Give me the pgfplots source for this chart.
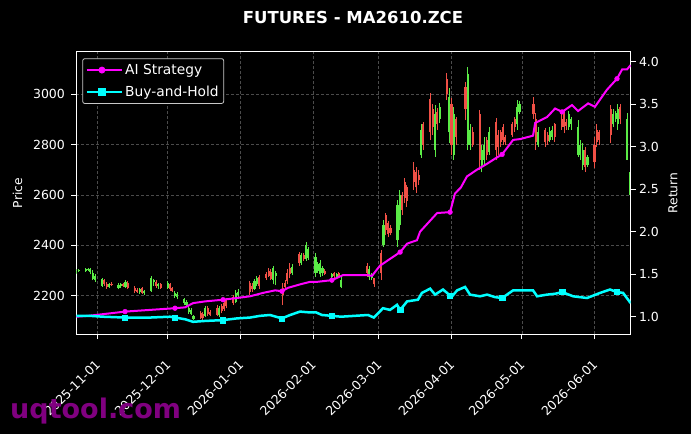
\documentclass[border=0pt]{standalone}
\usepackage{pgfplots}
\pgfplotsset{compat=1.18}
\usepackage{pgfplotstable}
\usepackage{fontspec}
\setmainfont{DejaVu Sans}
\definecolor{cgreen}{RGB}{90,235,70}
\definecolor{cred}{RGB}{240,80,70}
\definecolor{gridc}{RGB}{75,75,75}
\definecolor{wm}{RGB}{128,0,128}
\definecolor{legframe}{RGB}{200,200,200}
\definecolor{aimag}{RGB}{255,0,255}
\definecolor{bhcyan}{RGB}{0,255,255}

% day = days since 2025-11-01
\pgfplotstableread{
d o h l c
-9 2292 2306 2288 2300
-8 2300 2308 2294 2302
-5 2298 2310 2295 2306
-4 2304 2312 2298 2308
-3 2296 2312 2285 2305
-2 2268 2302 2262 2292
-1 2262 2285 2255 2278
2 2240 2272 2235 2265
5 2236 2252 2232 2246
9 2230 2250 2225 2244
10 2240 2252 2232 2248
12 2236 2262 2230 2255
18 2214 2230 2208 2225
20 2212 2222 2205 2218
23 2218 2278 2215 2270
24 2255 2268 2240 2262
26 2238 2250 2228 2245
30 2232 2258 2225 2250
33 2200 2218 2192 2212
34 2195 2215 2186 2208
37 2172 2192 2165 2186
38 2165 2182 2160 2176
39 2135 2158 2128 2150
40 2128 2150 2122 2142
41 2108 2125 2102 2120
46 2120 2160 2115 2150
52 2122 2158 2115 2150
59 2175 2222 2170 2212
60 2205 2225 2195 2215
67 2228 2265 2222 2258
68 2245 2278 2240 2270
75 2262 2318 2245 2310
76 2280 2300 2242 2292
83 2290 2325 2282 2315
87 2330 2370 2322 2360
89 2345 2414 2340 2400
90 2350 2395 2342 2385
93 2290 2370 2274 2355
94 2300 2335 2290 2325
95 2285 2342 2274 2330
96 2290 2320 2280 2310
100 2275 2292 2270 2286
102 2276 2292 2268 2285
104 2235 2284 2230 2262
116 2275 2318 2262 2305
117 2270 2290 2262 2282
122 2400 2500 2394 2480
128 2420 2580 2394 2560
129 2480 2620 2460 2600
138 2760 2880 2747 2860
144 2780 2957 2751 2920
146 2900 2965 2885 2950
150 2850 3025 2806 2990
152 2760 2950 2739 2920
158 2800 3110 2779 3080
159 2800 2880 2780 2860
164 2720 2800 2690 2780
165 2740 2830 2720 2800
167 2770 2870 2760 2850
179 2880 2977 2860 2950
180 2930 2975 2920 2960
188 2800 2870 2790 2850
193 2820 2870 2810 2855
194 2830 2875 2820 2860
201 2870 2935 2860 2920
202 2880 2910 2860 2900
205 2760 2898 2751 2870
206 2760 2820 2740 2800
207 2720 2806 2700 2780
209 2720 2760 2710 2750
220 2880 2940 2870 2920
221 2900 2935 2890 2925
222 2880 2960 2860 2940
226 2740 2925 2739 2900
227 2600 2690 2600 2680
}\upcandles

\pgfplotstableread{
d o h l c
3 2262 2266 2238 2245
4 2248 2255 2228 2235
6 2246 2254 2238 2242
11 2248 2252 2234 2238
13 2252 2258 2226 2232
16 2232 2238 2212 2218
17 2224 2232 2210 2214
19 2230 2236 2208 2212
25 2255 2262 2232 2240
27 2245 2250 2228 2232
31 2248 2252 2218 2225
32 2232 2236 2214 2218
44 2132 2138 2108 2112
45 2126 2134 2104 2110
47 2150 2158 2120 2128
48 2135 2142 2118 2122
51 2150 2162 2118 2125
53 2160 2166 2130 2138
54 2172 2190 2140 2148
55 2185 2192 2150 2158
58 2195 2205 2165 2172
65 2250 2258 2205 2215
66 2240 2250 2215 2225
69 2275 2282 2228 2238
72 2285 2295 2262 2270
73 2300 2312 2275 2280
74 2295 2305 2262 2268
79 2230 2250 2163 2205
80 2250 2262 2225 2235
81 2290 2305 2245 2258
82 2310 2330 2270 2285
86 2365 2374 2318 2330
88 2362 2368 2340 2345
97 2300 2305 2282 2288
101 2290 2296 2272 2278
103 2292 2296 2270 2276
115 2320 2330 2275 2290
118 2270 2272 2235 2245
121 2370 2382 2262 2290
123 2520 2528 2440 2460
124 2490 2495 2433 2445
125 2470 2480 2440 2450
130 2600 2610 2520 2540
131 2650 2667 2570 2590
132 2630 2640 2552 2575
135 2700 2731 2620 2650
136 2690 2710 2608 2630
137 2680 2700 2640 2660
139 2880 2890 2780 2800
142 2980 3005 2818 2850
143 2940 2960 2840 2870
145 2930 2945 2860 2880
149 3060 3085 2977 3000
151 2960 2985 2760 2800
153 2900 2910 2800 2830
157 3030 3048 2898 2940
160 2850 2870 2790 2800
163 2920 2938 2700 2740
166 2820 2830 2740 2760
170 2890 2906 2739 2780
171 2840 2860 2760 2790
172 2850 2860 2790 2810
173 2870 2880 2800 2820
174 2830 2838 2800 2810
177 2880 2890 2830 2840
178 2900 2910 2850 2870
186 2960 2990 2900 2920
187 2900 2925 2780 2810
191 2860 2866 2790 2810
192 2840 2850 2800 2815
195 2880 2885 2810 2830
198 2900 2920 2860 2870
199 2920 2937 2846 2870
200 2890 2900 2860 2875
208 2780 2790 2691 2710
212 2800 2830 2707 2730
213 2860 2880 2790 2810
214 2850 2860 2800 2820
219 2940 2957 2806 2840
223 2950 2960 2880 2900
}\downcandles

\pgfplotstableread{
d r
-9 1.00
-4 1.01
2.4 1.03
11.8 1.06
22.4 1.08
33.1 1.10
37.4 1.11
40.8 1.16
45.9 1.18
53.6 1.20
59.5 1.22
65.1 1.24
70.6 1.28
75.8 1.31
78.7 1.30
81.3 1.34
86.4 1.38
90.7 1.41
93.6 1.41
100 1.43
104.8 1.49
115.4 1.49
117.1 1.48
120.5 1.60
124.8 1.68
129.1 1.76
132.1 1.86
136.3 1.90
137.6 2.00
144.9 2.22
150.4 2.23
152.5 2.45
155 2.52
157.6 2.65
161.9 2.73
166.2 2.80
169.6 2.86
172.6 2.91
177.3 3.08
180.3 3.09
185.8 3.13
186.7 3.28
191.8 3.35
195.2 3.45
198.2 3.41
202.4 3.49
205 3.42
209.3 3.51
212.2 3.47
217.3 3.67
221.6 3.80
223.8 3.91
225.9 3.91
227.4 3.96
}\aistrat

\pgfplotstableread{
d r
11.8 1.06
33.1 1.10
53.6 1.20
78.7 1.30
100 1.43
129.1 1.76
150.4 2.23
172.6 2.91
198.2 3.41
221.6 3.80
}\aimarks

\pgfplotstableread{
d r
-9 1.01
-3.2 1.01
2.4 1.00
11.8 0.99
22.4 0.99
31 1.00
33.1 0.99
37.4 0.97
40.8 0.94
45.9 0.95
53.6 0.96
59.5 0.98
65.1 0.99
69.3 1.01
73.6 1.02
78.7 0.98
82.2 1.02
86.4 1.06
90.7 1.05
93.3 1.05
95.8 1.02
100 1.01
103.9 1.00
115.4 1.02
117.9 0.99
121.8 1.10
124.8 1.08
127.8 1.14
129.1 1.08
132.1 1.18
136.7 1.20
138.4 1.28
141.9 1.33
144 1.26
147.4 1.32
150.4 1.25
151.3 1.24
153.4 1.31
156.8 1.35
158.9 1.26
163.2 1.24
166.2 1.26
169.6 1.23
172.6 1.22
177.3 1.31
180.3 1.31
185.8 1.31
187.5 1.24
191.8 1.26
195.2 1.27
198.2 1.29
202.9 1.24
208.8 1.22
214.4 1.28
218.6 1.32
221.6 1.29
224.2 1.28
227.4 1.16
}\bhold

\pgfplotstableread{
d r
11.8 0.99
33.1 0.99
53.6 0.96
78.7 0.98
100 1.01
129.1 1.08
150.4 1.25
172.6 1.22
198.2 1.29
221.6 1.29
}\bhmarks

\begin{document}
\begin{tikzpicture}[x=1pt,y=1pt]
\fill[black] (0,0) rectangle (691,434);
\begin{axis}[
  at={(76.3pt,99.7pt)}, anchor=south west,
  width=554.3pt, height=282.6pt, scale only axis,
  xmin=-9, xmax=227.4, ymin=2047, ymax=3169,
  axis line style={white, line width=0.8pt},
  tick pos=left, tick align=outside, major tick length=4.9pt,
  tick style={white, line width=0.8pt},
  /pgf/number format/assume math mode=true,
  /pgf/number format/1000 sep={},
  xtick={0,30,61,92,120,151,181,212},
  xticklabels={2025-11-01,2025-12-01,2026-01-01,2026-02-01,2026-03-01,2026-04-01,2026-05-01,2026-06-01},
  xticklabel style={rotate=45, anchor=north east, text=white, font=\fontsize{12.5}{15}\selectfont, xshift=-12.5pt, yshift=-8.5pt},
  ytick={2200,2400,2600,2800,3000},
  yticklabel style={text=white, font=\fontsize{12.5}{15}\selectfont, xshift=-3pt},
  grid=major,
  major grid style={gridc, line width=0.6pt, dash pattern=on 3pt off 2pt},
  ylabel={Price},
  every axis y label/.style={at={(axis description cs:-0.1061,0.5)}, rotate=90, anchor=center, text=white, font=\fontsize{12.3}{15}\selectfont},
]
\addplot[draw=cgreen, line width=0.9pt, mark=none, forget plot, quiver={u=0, v=\thisrow{h}-\thisrow{l}}]
  table[x=d, y=l] {\upcandles};
\addplot[draw=cgreen, line width=2.1pt, mark=none, forget plot, quiver={u=0, v=\thisrow{c}-\thisrow{o}}]
  table[x=d, y=o] {\upcandles};
\addplot[draw=cred, line width=0.9pt, mark=none, forget plot, quiver={u=0, v=\thisrow{h}-\thisrow{l}}]
  table[x=d, y=l] {\downcandles};
\addplot[draw=cred, line width=2.1pt, mark=none, forget plot, quiver={u=0, v=\thisrow{o}-\thisrow{c}}]
  table[x=d, y=c] {\downcandles};
\end{axis}

\begin{axis}[
  at={(76.3pt,99.7pt)}, anchor=south west,
  width=554.3pt, height=282.6pt, scale only axis,
  xmin=-9, xmax=227.4, ymin=0.793, ymax=4.118,
  axis x line=none, axis y line*=right,
  axis line style={white, line width=0.8pt},
  tick align=outside, major tick length=4.9pt,
  tick style={white, line width=0.8pt},
  /pgf/number format/assume math mode=true,
  ytick={1,1.5,2,2.5,3,3.5,4},
  yticklabel style={text=white, font=\fontsize{12.5}{15}\selectfont, /pgf/number format/.cd, fixed, fixed zerofill, precision=1},
  ylabel={Return},
  every axis y label/.style={at={(axis description cs:1.0765,0.5)}, rotate=90, anchor=center, text=white, font=\fontsize{12.3}{15}\selectfont},
  legend style={at={(axis description cs:0,1)}, anchor=north west, xshift=6pt, yshift=-6.6pt,
    fill=black, draw=legframe, line width=0.8pt, text=white, rounded corners=2pt,
    font=\fontsize{13.8}{16}\selectfont, inner xsep=3pt, inner ysep=3.5pt, row sep=6pt},
  legend cell align=left,
  legend image code/.code={\path (0pt,0pt) -- (35pt,0pt); \draw[mark repeat=2,mark phase=2,#1] plot coordinates {(0pt,0pt) (15pt,0pt) (30pt,0pt)};},
]
\addlegendimage{aimag, line width=2pt, mark=*, mark size=2.4pt, mark options={solid}}
\addlegendentry{AI Strategy}
\addlegendimage{bhcyan, line width=2.5pt, mark=square*, mark size=2.6pt, mark options={solid}}
\addlegendentry{Buy-and-Hold}
\addplot[aimag, line width=2pt, forget plot] table[x=d, y=r] {\aistrat};
\addplot[aimag, only marks, mark=*, mark size=2.4pt, forget plot] table[x=d, y=r] {\aimarks};
\addplot[bhcyan, line width=2.5pt, forget plot] table[x=d, y=r] {\bhold};
\addplot[bhcyan, only marks, mark=square*, mark size=2.6pt, forget plot] table[x=d, y=r] {\bhmarks};
\end{axis}

\node[anchor=base, text=white, font=\fontsize{16.5}{20}\selectfont\bfseries] at (353,410) {FUTURES - MA2610.ZCE};
\node[anchor=base west, inner sep=0pt, text=wm, font=\fontsize{27}{30}\selectfont\bfseries] at (10,16) {uqtool.com};
\end{tikzpicture}
\end{document}
